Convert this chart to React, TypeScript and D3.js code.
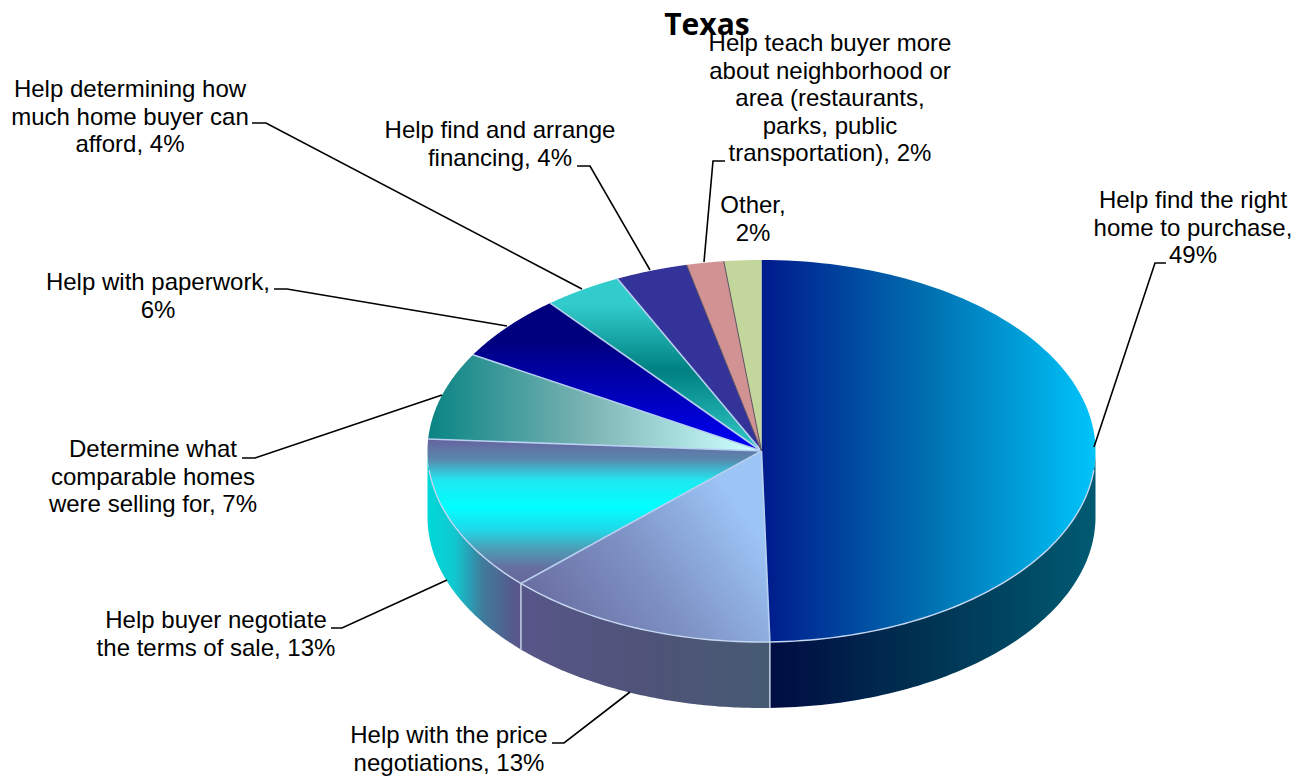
import React from 'react';
import * as d3 from 'd3';

const width = 1307;
const height = 776;

// pie geometry
const cx = 761.5;
const cy = 451;
const rx = 334;
const ry = 191;
const depth = 66;

const categories = [
  'Help find the right home to purchase',
  'Help with the price negotiations',
  'Help buyer negotiate the terms of sale',
  'Determine what comparable homes were selling for',
  'Help with paperwork',
  'Help determining how much home buyer can afford',
  'Help find and arrange financing',
  'Help teach buyer more about neighborhood or area (restaurants, parks, public transportation)',
  'Other',
];
const labelPercents = [49, 13, 13, 7, 6, 4, 4, 2, 2];
// slice sizes estimated from the drawn angles, the labels are rounded
const sliceShares = [49.6, 13.2, 13.2, 7.4, 5.7, 3.8, 3.5, 1.8, 1.8];

const labelLines = [
  ['Help find the right', 'home to purchase,', '49%'],
  ['Help with the price', 'negotiations, 13%'],
  ['Help buyer negotiate', 'the terms of sale, 13%'],
  ['Determine what', 'comparable homes', 'were selling for, 7%'],
  ['Help with paperwork,', '6%'],
  ['Help determining how', 'much home buyer can', 'afford, 4%'],
  ['Help find and arrange', 'financing, 4%'],
  ['Help teach buyer more', 'about neighborhood or', 'area (restaurants,', 'parks, public', 'transportation), 2%'],
  ['Other,', '2%'],
];
// x centre and first baseline of each label
const labelAnchors = [
  [1193, 208], [449, 743], [216, 628], [153, 457], [158, 290],
  [130, 97], [500, 138], [830, 51], [753, 213],
];
// leader lines: elbow start, elbow end, point on the pie
const leaders = [
  [[1166, 263], [1155, 263], [1094, 447]],
  [[552, 743], [564, 743], [630, 692]],
  [[331, 628], [342, 628], [447, 580]],
  [[242, 458], [255, 458], [442, 395]],
  [[274, 289], [287, 289], [507, 326]],
  [[252, 123], [266, 123], [582, 289]],
  [[577, 166], [590, 166], [650, 270]],
  [[725, 161], [713, 161], [704, 262]],
];

const topGradients = [
  { id: 'top0', x1: 762, y1: 0, x2: 1095, y2: 0, stops: [[0, '#001a8c'], [0.5, '#0070b0'], [1, '#00c4fa']] },
  { id: 'top1', x1: 520, y1: 620, x2: 720, y2: 480, stops: [[0, '#66669a'], [0.55, '#7f93c6'], [1, '#9cc4f5']] },
  { id: 'top2', x1: 0, y1: 440, x2: 0, y2: 590, stops: [[0, '#66649f'], [0.13, '#5a88ae'], [0.27, '#20e8f0'], [0.45, '#00ffff'], [0.6, '#20d8e8'], [0.72, '#4aa0b8'], [0.85, '#66709f'], [1, '#66649a']] },
  { id: 'top3', x1: 430, y1: 0, x2: 750, y2: 0, stops: [[0, '#0a8484'], [0.5, '#7db4b4'], [1, '#ccffff']] },
  { id: 'top4', x1: 0, y1: 340, x2: 0, y2: 452, stops: [[0, '#00007e'], [1, '#0000fa']] },
  { id: 'top5', x1: 0, y1: 304, x2: 0, y2: 452, stops: [[0, '#33cccc'], [0.45, '#008080'], [1, '#33cccc']] },
];
const solidFills = ['#333399', '#d09292', '#c3d69b'];

const sideGradients = [
  { id: 'side0', x1: 769, x2: 1095, stops: [[0, '#000c42'], [0.45, '#003050'], [1, '#005a72']] },
  { id: 'side1', x1: 516, x2: 769, stops: [[0, '#58568a'], [0.5, '#4f5378'], [1, '#465a72']] },
  { id: 'side2', x1: 428, x2: 516, stops: [[0, '#00d8d8'], [0.3, '#10c8d0'], [0.62, '#3f7c9c'], [1, '#58568a']] },
];

const pieGen = d3.pie<number>().sort(null).startAngle(0).endAngle(2 * Math.PI);

// d3 angles run clockwise from twelve o'clock
const px = (a: number) => cx + rx * Math.sin(a);
const py = (a: number) => cy - ry * Math.cos(a);

const angleSteps = (from: number, to: number, n: number) =>
  d3.range(0, n + 1).map(i => from + ((to - from) * i) / n);

const edgeLine = d3.line<number>().x(px).y(py);

// top face in screen coordinates, so the gradients stay in page space
function facePath(a0: number, a1: number) {
  return `M${cx},${cy}L${(edgeLine(angleSteps(a0, a1, 120)) as string).slice(1)}Z`;
}

// outer wall of the slice, only the front half of the ellipse can be seen
function wallPath(a0: number, a1: number) {
  const from = Math.max(a0, Math.PI / 2);
  const to = Math.min(a1, (3 * Math.PI) / 2);
  if (to <= from) return null;
  const area = d3.area<number>().x(px).y0(py).y1(a => py(a) + depth);
  return area(angleSteps(from, to, 80));
}

export default function App() {
  const arcs = pieGen(sliceShares);
  const rim = angleSteps(Math.PI / 2 + 0.1, (3 * Math.PI) / 2 - 0.1, 120);

  return (
    <svg width={width} height={height} style={{ position: 'absolute', left: 0, top: 0 }} fontFamily="'Liberation Sans', Arial, sans-serif">
      <defs>
        {topGradients.map(g => (
          <linearGradient key={g.id} id={g.id} gradientUnits="userSpaceOnUse" x1={g.x1} y1={g.y1} x2={g.x2} y2={g.y2}>
            {g.stops.map((s, i) => <stop key={i} offset={s[0]} stopColor={s[1] as string} />)}
          </linearGradient>
        ))}
        {sideGradients.map(g => (
          <linearGradient key={g.id} id={g.id} gradientUnits="userSpaceOnUse" x1={g.x1} y1={0} x2={g.x2} y2={0}>
            {g.stops.map((s, i) => <stop key={i} offset={s[0]} stopColor={s[1] as string} />)}
          </linearGradient>
        ))}
      </defs>

      {/* walls */}
      {arcs.map((d, i) => {
        const p = wallPath(d.startAngle, d.endAngle);
        return p && <path key={i} d={p} fill={i < 3 ? `url(#side${i})` : '#555'} />;
      })}
      {arcs.slice(0, 2).map((d, i) => (
        <line key={i} x1={px(d.endAngle)} x2={px(d.endAngle)} y1={py(d.endAngle)} y2={py(d.endAngle) + depth} stroke="#c4cfe6" strokeWidth={1.5} />
      ))}

      {/* top faces */}
      {arcs.map((d, i) => (
        <path
          key={i}
          d={facePath(d.startAngle, d.endAngle)}
          fill={i < topGradients.length ? `url(#top${i})` : solidFills[i - topGradients.length]}
        />
      ))}
      {arcs.map((d, i) => i < 8 && (
        <line
          key={i}
          x1={cx}
          y1={cy}
          x2={px(d.endAngle)}
          y2={py(d.endAngle)}
          stroke={i < 6 ? '#b8d0f0' : '#5a5060'}
          strokeWidth={i < 6 ? 1.6 : 1}
        />
      ))}
      <path d={edgeLine(rim) as string} fill="none" stroke="#c4d6f0" strokeWidth={1.4} />

      {/* leaders */}
      {leaders.map((l, i) => (
        <polyline key={i} points={l.map(p => p.join(',')).join(' ')} fill="none" stroke="#000" strokeWidth={1.6} />
      ))}

      {/* labels */}
      {labelLines.map((lines, i) => (
        <text key={categories[i]} x={labelAnchors[i][0]} y={labelAnchors[i][1]} textAnchor="middle" fontSize={24} fill="#000" data-percent={labelPercents[i]}>
          {lines.map((t, j) => <tspan key={j} x={labelAnchors[i][0]} dy={j === 0 ? 0 : 27.6}>{t}</tspan>)}
        </text>
      ))}

      <text x={707} y={35} textAnchor="middle" fontSize={30} fontWeight="bold" fontFamily="'Open Sans', sans-serif">Texas</text>
    </svg>
  );
}
